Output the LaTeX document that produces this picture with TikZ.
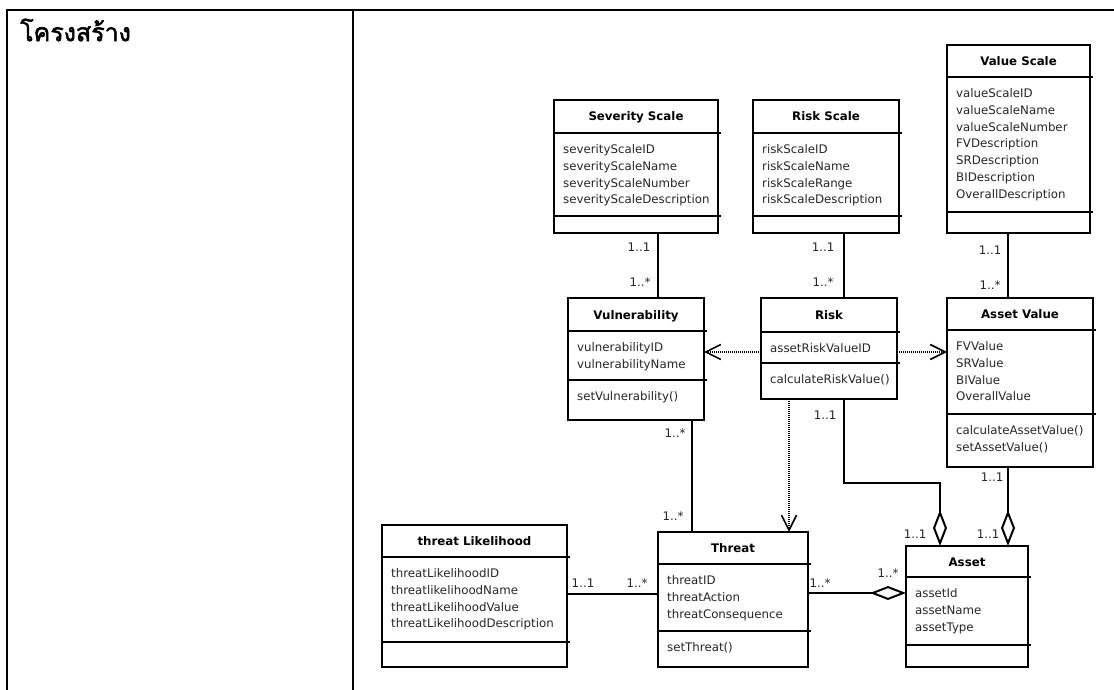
\documentclass[tikz,border=0pt]{standalone}
\usepackage{fontspec}
\setmainfont{DejaVu Sans}
\newfontfamily\thaifont[Script=Thai,FakeBold=2]{Loma}
\usetikzlibrary{arrows.meta,fit}

\tikzset{
  classbox/.style={draw, line width=2pt, inner sep=0pt, outer sep=0pt},
  classline/.style={line width=2pt},
  titletext/.style={font=\fontsize{11.8}{14}\selectfont\bfseries, inner sep=0pt, anchor=base},
  attrtext/.style={font=\fontsize{11.8}{14}\selectfont, text=black!85, inner sep=0pt, anchor=base west},
  mult/.style={font=\fontsize{11.8}{14}\selectfont, text=black!85, inner sep=0pt},
  assoc/.style={line width=2pt},
  depend/.style={line width=1.6pt, dash pattern=on 1.2pt off 0.8pt,
    -{Straight Barb[length=15pt,width=15pt,line width=1.6pt]}},
  aggreg/.style={line width=2pt, -{Diamond[open,length=36pt,width=14pt]}},
  frame/.style={line width=2.4pt},
}

% class box: name, left, top, right, bottom, header rule, compartment rule, title
\newcommand\umlbox[8]{%
  \node[classbox, fit={(#2,#3) (#4,#5)}] (#1) {};
  \draw[classline] (#2,#6) -- ({#4+3},#6);
  \draw[classline] (#2,#7) -- ({#4+3},#7);
  \node[titletext] (#1-title) at ({(#2+#4)/2},{(#3+#6)/2+4.5}) {#8};
}
% one text line per entry: prefix, x, first baseline, entries
\newcommand\umllines[4]{%
  \foreach \t [count=\i from 0] in {#4} {
    \node[attrtext] (#1-\i) at (#2,{#3+16.8*\i}) {\t};
  }
}

\begin{document}
\begin{tikzpicture}[x=1pt,y=-1pt]
\useasboundingbox (0,0) rectangle (1114,690);

% table frame
\draw[frame] (7,690) -- (7,10) -- (1114,10);
\draw[frame] (353,10) -- (353,690);
\node[font=\thaifont\fontsize{25}{28}\selectfont, anchor=west, inner sep=0pt]
  (heading) at (20,30) {โครงสร้าง};

% classes
\umlbox{sev}{554}{100}{718}{233}{133}{216}{Severity Scale}
\umllines{sev-a}{563}{153.5}{severityScaleID,severityScaleName,severityScaleNumber,severityScaleDescription}

\umlbox{rsc}{753}{100}{899}{233}{133}{216}{Risk Scale}
\umllines{rsc-a}{762}{153.5}{riskScaleID,riskScaleName,riskScaleRange,riskScaleDescription}

\umlbox{vsc}{947}{45}{1090}{233}{77}{212}{Value Scale}
\umllines{vsc-a}{956}{97.5}{valueScaleID,valueScaleName,valueScaleNumber,FVDescription,SRDescription,BIDescription,OverallDescription}

\umlbox{vul}{568}{298}{704}{420}{331}{380}{Vulnerability}
\umllines{vul-a}{577}{351.5}{vulnerabilityID,vulnerabilityName}
\umllines{vul-o}{577}{400.5}{setVulnerability()}

\umlbox{risk}{761}{298}{897}{399}{332}{363}{Risk}
\umllines{risk-a}{770}{352.5}{assetRiskValueID}
\umllines{risk-o}{770}{383.5}{calculateRiskValue()}

\umlbox{av}{947}{298}{1093}{467}{330}{414}{Asset Value}
\umllines{av-a}{956}{350.5}{FVValue,SRValue,BIValue,OverallValue}
\umllines{av-o}{956}{434.5}{calculateAssetValue(),setAssetValue()}

\umlbox{thr}{658}{532}{808}{667}{564}{631}{Threat}
\umllines{thr-a}{667}{584.5}{threatID,threatAction,threatConsequence}
\umllines{thr-o}{667}{651.5}{setThreat()}

\umlbox{asset}{906}{546}{1028}{667}{577}{645}{Asset}
\umllines{asset-a}{915}{597.5}{assetId,assetName,assetType}

\umlbox{tl}{382}{525}{567}{667}{557}{642}{threat Likelihood}
\umllines{tl-a}{391}{577.5}{threatLikelihoodID,threatlikelihoodName,threatLikelihoodValue,threatLikelihoodDescription}

% associations
\draw[assoc] ([xshift=22pt]sev.south) -- ([xshift=22pt]vul.north);
\draw[assoc] ([xshift=18pt]rsc.south) -- ([xshift=15pt]risk.north);
\draw[assoc] ([xshift=-10.5pt]vsc.south) -- ([xshift=-12pt]av.north);
\draw[assoc] ([xshift=56pt]vul.south) -- ([xshift=56pt]vul.south |- thr.north);
\draw[assoc] ([yshift=2pt]tl.east) -- ([yshift=2pt]tl.east -| thr.west);

% dependencies
\draw[depend] ([yshift=-3.5pt]risk.west) -- ([yshift=-3.5pt]risk.west -| vul.east);
\draw[depend] ([yshift=-3.5pt]risk.east) -- ([yshift=-3.5pt]risk.east -| av.west);
\draw[depend] ([xshift=-40pt]risk.south) -- ([xshift=-40pt]risk.south |- thr.north);

% aggregations
\draw[aggreg] ([xshift=15pt]risk.south) -- ++(0,84) -| ([xshift=-27pt]asset.north);
\draw[aggreg] ([xshift=-12pt]av.south) -- ([xshift=-12pt]av.south |- asset.north);
\draw[aggreg] ([yshift=6.5pt]thr.east) -- ([yshift=6.5pt]thr.east -| asset.west);

% multiplicities
\node[mult] (m1) at (639,247) {1..1};
\node[mult] (m2) at (640,282) {1..*};
\node[mult] (m3) at (823,247) {1..1};
\node[mult] (m4) at (823,282) {1..*};
\node[mult] (m5) at (990,250) {1..1};
\node[mult] (m6) at (990,285) {1..*};
\node[mult] (m7) at (825,415) {1..1};
\node[mult] (m8) at (675,433) {1..*};
\node[mult] (m9) at (673,516) {1..*};
\node[mult] (m10) at (992,477) {1..1};
\node[mult] (m11) at (915,534) {1..1};
\node[mult] (m12) at (988,534) {1..1};
\node[mult] (m13) at (820,583) {1..*};
\node[mult] (m14) at (888,573) {1..*};
\node[mult] (m15) at (583,583) {1..1};
\node[mult] (m16) at (637,583) {1..*};
\end{tikzpicture}
\end{document}
